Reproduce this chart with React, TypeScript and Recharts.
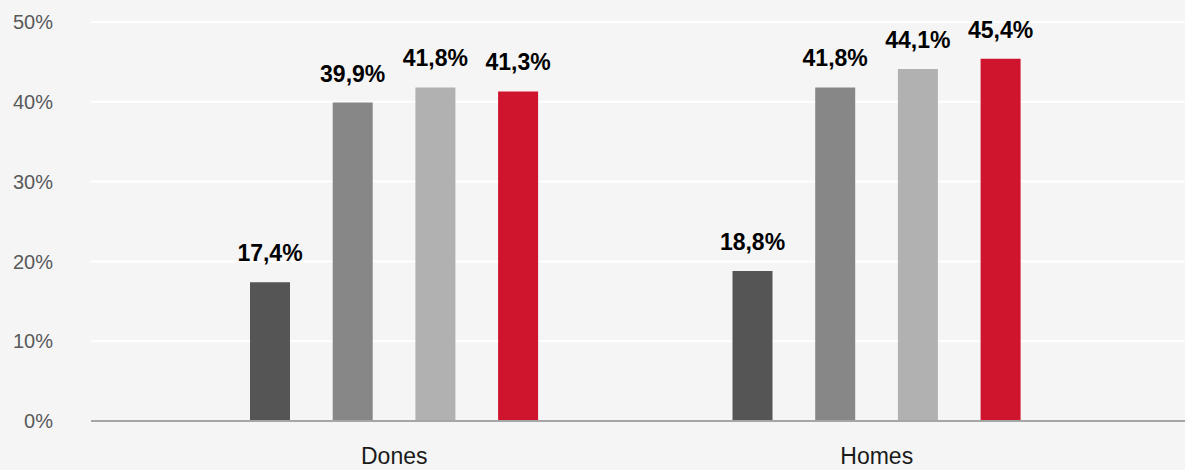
import React from 'react';
import { BarChart, Bar, XAxis, YAxis, CartesianGrid, LabelList } from 'recharts';

const categories = ['Dones', 'Homes'];
const series1 = [17.4, 18.8];
const series2 = [39.9, 41.8];
const series3 = [41.8, 44.1];
const series4 = [41.3, 45.4];
const yTicks = [0, 10, 20, 30, 40, 50];

const SERIES = [
  { key: 's1', values: series1, color: '#555555' },
  { key: 's2', values: series2, color: '#878787' },
  { key: 's3', values: series3, color: '#b1b1b1' },
  { key: 's4', values: series4, color: '#cf142d' },
];

const FONT = '"Liberation Sans", Arial, sans-serif';

const formatValue = (v: any) => `${Number(v).toFixed(1).replace('.', ',')}%`;

const App: React.FC = () => {
  const data = categories.map((name, i) => {
    const row: Record<string, any> = { name };
    SERIES.forEach((s) => {
      row[s.key] = s.values[i];
    });
    return row;
  });

  return (
    <div
      style={{
        position: 'absolute',
        top: 0,
        left: 0,
        width: 1185,
        height: 470,
        background: '#f5f5f5',
        fontFamily: FONT,
      }}
    >
      <BarChart
        width={1185}
        height={470}
        data={data}
        margin={{ top: 22, right: 0, bottom: 0, left: 0 }}
        barSize={40}
        barGap={42.7}
      >
        <CartesianGrid vertical={false} stroke="#ffffff" strokeWidth={2} />
        <XAxis
          dataKey="name"
          height={49}
          padding={{ left: 62, right: 67 }}
          tickLine={false}
          tickSize={0}
          tickMargin={27}
          axisLine={{ stroke: '#a6a6a6', strokeWidth: 2 }}
          tick={{ fill: '#1a1a1a', fontSize: 23, fontFamily: FONT }}
        />
        <YAxis
          width={91}
          domain={[0, 50]}
          ticks={yTicks}
          tickFormatter={(v) => `${v}%`}
          axisLine={false}
          tickLine={false}
          tickSize={0}
          tickMargin={38}
          tick={{ fill: '#595959', fontSize: 20, fontFamily: FONT }}
        />
        {SERIES.map((s) => (
          <Bar key={s.key} dataKey={s.key} fill={s.color} isAnimationActive={false}>
            <LabelList
              dataKey={s.key}
              position="top"
              offset={21}
              formatter={formatValue}
              style={{ fill: '#000000', fontSize: 23, fontWeight: 'bold', fontFamily: FONT }}
            />
          </Bar>
        ))}
      </BarChart>
    </div>
  );
};

export default App;
